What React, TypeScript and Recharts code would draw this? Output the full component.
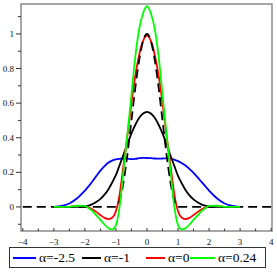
import { LineChart, Line, XAxis, YAxis, ReferenceArea } from "recharts"

const xs = [
  -4, -3, -2.75, -2.5, -2.25, -2, -1.875, -1.75, -1.625, -1.5, -1.375, -1.25, -1.125, -1, -0.875, -0.75,
  -0.625, -0.5, -0.375, -0.25, -0.125, 0, 0.125, 0.25, 0.375, 0.5, 0.625, 0.75, 0.875, 1, 1.125, 1.25,
  1.375, 1.5, 1.625, 1.75, 1.875, 2, 2.25, 2.5, 2.75, 3, 4,
]

// α = -2.5 (blue)
const alphaM25 = [
  null, 0, 0.006, 0.02, 0.05, 0.095, 0.12, 0.15, 0.18, 0.21, 0.235, 0.255, 0.268, 0.275, 0.278, 0.28,
  0.279, 0.276, 0.278, 0.282, 0.284, 0.283, 0.282, 0.28, 0.279, 0.28, 0.281, 0.279, 0.274, 0.265, 0.253, 0.238,
  0.219, 0.197, 0.172, 0.146, 0.12, 0.094, 0.05, 0.02, 0.006, 0, null,
]

// α = -1 (black)
const alphaM1 = [
  null, 0, 0, 0, 0, 0.003, 0.008, 0.017, 0.03, 0.047, 0.07, 0.1, 0.14, 0.185, 0.245, 0.305,
  0.365, 0.425, 0.475, 0.515, 0.54, 0.55, 0.54, 0.515, 0.475, 0.425, 0.365, 0.3, 0.24, 0.18, 0.135, 0.095,
  0.066, 0.044, 0.027, 0.015, 0.007, 0.002, 0, 0, 0, 0, null,
]

// α = 0 (red)
const alpha0 = [
  null, 0, 0, 0.001, 0.006, 0.004, -0.004, -0.015, -0.03, -0.047, -0.062, -0.07, -0.062, -0.025, 0.08, 0.25,
  0.42, 0.6, 0.76, 0.88, 0.96, 0.99, 0.96, 0.88, 0.76, 0.6, 0.42, 0.25, 0.08, -0.025, -0.062, -0.07,
  -0.062, -0.047, -0.03, -0.015, -0.004, 0.004, 0.006, 0.001, 0, 0, null,
]

// α = 0.24 (green)
const alpha024 = [
  null, 0, 0, 0.001, 0.007, 0.006, -0.008, -0.025, -0.05, -0.075, -0.1, -0.122, -0.13, -0.105, 0.01, 0.22,
  0.43, 0.65, 0.87, 1.03, 1.12, 1.16, 1.12, 1.03, 0.87, 0.65, 0.43, 0.22, 0.01, -0.105, -0.13, -0.122,
  -0.1, -0.075, -0.05, -0.025, -0.008, 0.006, 0.007, 0.001, 0, 0, null,
]

// dashed reference profile
const exact = [
  0, 0, 0, 0, 0, 0, 0, 0, 0, 0, 0, 0, 0, 0, 0.04, 0.15,
  0.31, 0.5, 0.69, 0.85, 0.96, 1, 0.96, 0.85, 0.69, 0.5, 0.31, 0.15, 0.04, 0, 0, 0,
  0, 0, 0, 0, 0, 0, 0, 0, 0, 0, 0,
]

const legendLabels = ["α=-2.5", "α=-1", "α=0", "α=0.24"]
const xTicks = [-4, -3.5, -3, -2.5, -2, -1.5, -1, -0.5, 0, 0.5, 1, 1.5, 2, 2.5, 3, 3.5, 4]
const yTicks = [-0.1, 0, 0.1, 0.2, 0.3, 0.4, 0.5, 0.6, 0.7, 0.8, 0.9, 1, 1.1]

const xDomain: [number, number] = [-4.058, 4.027]
const yDomain: [number, number] = [-0.139, 1.173]

const data = xs.map((x, i) => ({
  x,
  a: alphaM25[i],
  b: alphaM1[i],
  c: alpha0[i],
  d: alpha024[i],
  e: exact[i],
}))

const colors = ["#0000ff", "#000000", "#ff0000", "#00ff00"]
const font = "'Liberation Serif', 'Times New Roman', serif"

function XTick(props: any) {
  const { x, y, payload } = props
  const v = payload.value
  const isMajor = Number.isInteger(v)
  return (
    <g>
      <line x1={x} x2={x} y1={y} y2={y - (isMajor ? 3 : 2.5)} stroke="#333" strokeWidth={1} />
      {isMajor && (
        <text x={x} y={y + 14} textAnchor="middle" fontSize={9} fontFamily={font} fill="#111">
          {v < 0 ? "−" + Math.abs(v) : String(v)}
        </text>
      )}
    </g>
  )
}

function YTick(props: any) {
  const { x, y, payload } = props
  const v = payload.value
  const tenths = Math.round(v * 10)
  const isMajor = tenths % 2 === 0 && tenths >= 0
  return (
    <g>
      <line x1={x - (isMajor ? 5 : 3)} x2={x} y1={y} y2={y} stroke="#333" strokeWidth={1} />
      {isMajor && (
        <text x={x - 7} y={y + 3} textAnchor="end" fontSize={9} fontFamily={font} fill="#111">
          {String(tenths / 10)}
        </text>
      )}
    </g>
  )
}

// legend item placement (px inside the box)
const legendLayout = [
  { left: 3, line: 23 },
  { left: 72, line: 19 },
  { left: 136, line: 19 },
  { left: 180, line: 25 },
]

export default function App() {
  return (
    <div style={{ position: "absolute", left: 0, top: 0, width: 277, height: 277, background: "#fff" }}>
      <LineChart width={277} height={277} data={data} margin={{ top: 4, right: 5, left: 0, bottom: 30 }}>
        <XAxis
          dataKey="x"
          type="number"
          domain={xDomain}
          allowDataOverflow
          ticks={xTicks}
          interval={0}
          axisLine={false}
          tickLine={false}
          tickSize={0}
          tickMargin={0}
          height={16}
          tick={<XTick />}
        />
        <YAxis
          type="number"
          domain={yDomain}
          allowDataOverflow
          ticks={yTicks}
          interval={0}
          axisLine={false}
          tickLine={false}
          tickSize={0}
          tickMargin={0}
          width={21}
          tick={<YTick />}
        />
        <Line type="monotone" dataKey="a" stroke={colors[0]} strokeWidth={1.8} dot={false} isAnimationActive={false} />
        <Line type="monotone" dataKey="b" stroke={colors[1]} strokeWidth={1.8} dot={false} isAnimationActive={false} />
        <Line type="monotone" dataKey="c" stroke={colors[2]} strokeWidth={1.8} dot={false} isAnimationActive={false} />
        <Line
          type="monotone"
          dataKey="e"
          stroke="#000"
          strokeWidth={1.8}
          strokeDasharray="9 5"
          dot={false}
          isAnimationActive={false}
        />
        <Line type="monotone" dataKey="d" stroke={colors[3]} strokeWidth={1.8} dot={false} isAnimationActive={false} />
        <ReferenceArea
          x1={xDomain[0]}
          x2={xDomain[1]}
          y1={yDomain[0]}
          y2={yDomain[1]}
          fill="none"
          stroke="#8a8a8a"
          strokeWidth={1.5}
          ifOverflow="visible"
        />
      </LineChart>
      <div
        style={{
          position: "absolute",
          left: 9,
          top: 247,
          width: 255,
          height: 19,
          border: "1px solid #333",
          fontFamily: font,
          fontSize: 13.5,
        }}
      >
        {legendLabels.map((label, i) => (
          <div
            key={label}
            style={{
              position: "absolute",
              left: legendLayout[i].left,
              top: 0,
              height: 19,
              display: "flex",
              alignItems: "center",
              whiteSpace: "nowrap",
            }}
          >
            <span
              style={{ display: "inline-block", width: legendLayout[i].line, height: 2, background: colors[i] }}
            />
            <span style={{ marginLeft: 3, lineHeight: "19px" }}>{label}</span>
          </div>
        ))}
      </div>
    </div>
  )
}
